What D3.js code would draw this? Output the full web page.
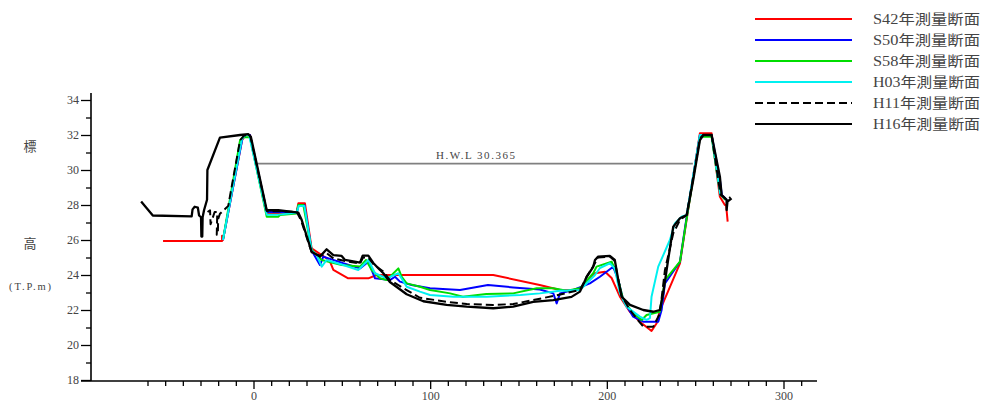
<!DOCTYPE html>
<html><head><meta charset="utf-8">
<script src="https://cdn.jsdelivr.net/npm/d3@7"></script>
<style>
html,body{margin:0;padding:0;background:#fff;}
svg{display:block;}
text{font-family:"Liberation Serif","Noto Sans CJK JP",serif;fill:#444;}
</style></head>
<body>
<svg id="chart" width="988" height="403"></svg>
<script>
// ---------------- data ----------------
const seriesNames = ["S42年測量断面","S50年測量断面","S58年測量断面","H03年測量断面","H11年測量断面","H16年測量断面"];
const seriesColors = ["#ff0000","#0000ff","#00dd00","#00f0f0","#000000","#000000"];
const seriesDash = [null,null,null,null,"8,4",null];

const S42 = [[-51.2,25.95],[-17.8,25.95],[-17.8,26.25],[-17.3,26.0],[-6.5,31.7],[-4.5,32.0],[-2,32.0],[7.5,27.5],[14,27.5],[24.5,27.62],[25.4,28.1],[29.1,28.1],[32.9,25.52],[41.4,24.95],[43.3,24.76],[45.2,24.29],[53.6,23.81],[65,23.81],[69.7,24.0],[135.7,24.0],[162,23.43],[173.5,23.14],[184.8,23.14],[193.3,24.1],[199,24.19],[202.7,23.83],[207.4,22.76],[213,21.9],[218.7,21.33],[225.3,20.8],[228.2,21.24],[230.1,22.0],[233.8,22.86],[241.4,24.67],[245.2,27.2],[252.7,32.1],[259.3,32.1],[264,28.47],[266.8,28.0],[267.5,28.0],[268.4,27.05]];
const S50 = [[-17.3,26.0],[-6.3,31.8],[-4.5,32.0],[-2,32.0],[7.5,27.6],[14,27.6],[24.5,27.6],[25.6,28.0],[28.8,28.0],[32.9,25.4],[33.8,25.24],[37.6,24.57],[39.5,25.05],[50.8,24.67],[60.3,24.38],[65,24.76],[68.8,23.81],[77.2,23.71],[80.1,23.9],[82.9,23.62],[89.5,23.43],[99.9,23.24],[116.9,23.14],[132.7,23.43],[147,23.29],[162.1,23.17],[169.7,22.95],[171.6,22.38],[173.5,22.95],[181,23.14],[190.4,23.52],[196.1,23.9],[203.6,24.47],[206.5,23.71],[209.3,22.57],[214.9,21.62],[220.6,21.33],[229.1,21.33],[231,22.0],[232.9,23.52],[241.4,24.76],[245.2,27.33],[252.7,32.0],[259.3,32.0],[264,29.43],[265.1,28.57],[268,28.29]];
const S58 = [[-17.1,26.1],[-7.6,31.7],[-5.8,31.87],[-2,31.87],[7.5,27.33],[14,27.33],[15,27.43],[24.4,27.52],[25.4,28.0],[28.2,28.0],[32.9,25.43],[38.6,24.86],[49.9,24.57],[60.3,24.48],[63.7,24.86],[66.9,24.29],[71.6,23.81],[75.4,23.71],[82,24.38],[83.9,23.9],[86.7,23.52],[94.2,23.33],[99.9,23.14],[111.3,22.95],[118.5,22.76],[131.8,22.91],[147,22.95],[160.3,23.24],[169.7,23.24],[177.3,23.1],[184.8,23.24],[192.3,24.1],[194.2,24.48],[202.7,24.76],[205.5,24.1],[209.3,22.57],[214.9,21.81],[219.7,21.43],[222.5,21.71],[230,21.9],[232.9,23.71],[241.4,24.76],[245.2,27.24],[252.7,31.9],[259.3,31.9],[262.1,30.0],[264.3,28.6],[267,28.3]];
const H03 = [[-17.3,26.0],[-6.5,31.8],[-4.5,32.0],[-2.5,32.0],[7.5,27.45],[14,27.45],[24.5,27.55],[25.6,27.95],[28.8,27.95],[32.9,25.4],[35.8,25.14],[38.6,24.48],[41.4,24.86],[50.8,24.57],[59.3,24.29],[65,24.86],[68.8,24.1],[75.4,23.81],[82,24.1],[86.7,23.33],[94.2,23.05],[99.9,22.86],[113.2,22.76],[132.1,22.76],[151.1,22.86],[162.1,22.95],[173.5,23.1],[184.8,23.14],[193.3,24.0],[196.1,24.4],[201.7,24.67],[204.5,24.38],[207.4,22.95],[211.2,22.19],[218.7,21.62],[222.5,21.43],[224.4,21.54],[225.3,22.76],[229.1,24.48],[235.7,26.0],[238.5,26.95],[242.3,27.33],[245.2,27.43],[252.7,32.0],[259.3,32.0],[264.2,28.6],[267.5,28.3]];
const H11 = [[-26,27.6],[-24.6,27.7],[-24.3,26.9],[-22,27.6],[-20.5,27.6],[-20.8,26.3],[-20.2,26.3],[-20,27.2],[-19,27.5],[-14.3,27.95],[-7.6,31.7],[-5.5,31.95],[-2.5,32.05],[-1.5,31.8],[7.5,27.65],[14,27.65],[24.5,27.6],[27,27.1],[32.9,25.3],[37.6,25.1],[41.4,25.25],[45.2,24.95],[51.8,24.8],[60.3,24.65],[62,25.0],[65,25.0],[68,24.6],[73.5,24.2],[77.2,23.71],[86.7,23.14],[94.2,22.7],[109.3,22.47],[120.7,22.34],[135.7,22.29],[147,22.34],[158.3,22.57],[169.7,22.8],[184.8,23.14],[188.6,23.9],[192.3,24.5],[195.1,25.0],[201.7,25.05],[204.5,24.8],[206.5,23.7],[208.4,22.8],[213.1,22.0],[217,21.5],[220.6,21.05],[226.3,21.05],[230,21.8],[232.9,24.29],[237.6,26.38],[241.4,27.14],[245.2,27.43],[252.7,31.8],[254.6,32.0],[259.3,32.0],[264.3,28.6],[267.8,28.3],[270,28.45]];
const H16 = [[-63.6,28.2],[-57,27.4],[-35,27.35],[-34.5,27.75],[-33.3,27.9],[-31.5,27.85],[-30.8,27.4],[-29.7,27.3],[-29.5,26.2],[-29,26.2],[-28.8,27.3],[-28,27.7],[-26.3,28.3],[-26.1,30.0],[-19,31.85],[-7.6,32.0],[-3,32.05],[-1.5,31.9],[7.5,27.7],[14,27.7],[25.4,27.56],[27.3,27.14],[32.9,25.33],[37.6,25.05],[41.4,25.47],[45.2,25.14],[49.9,25.09],[51.8,24.86],[60.3,24.71],[61.8,25.11],[65,25.11],[67.8,24.69],[71.6,24.29],[73.5,24.1],[77.2,23.6],[86.7,22.9],[96.1,22.5],[109.3,22.29],[120.7,22.19],[135.7,22.1],[147,22.19],[158.3,22.47],[169.7,22.57],[180,22.75],[184.8,23.05],[188.6,23.9],[192.3,24.47],[193.3,24.86],[195.1,25.05],[201.7,25.09],[204.5,24.86],[206.5,23.71],[208.4,22.76],[213.1,22.29],[220.6,22.0],[226.3,21.9],[230,22.0],[231.9,22.95],[234.7,24.86],[237.6,26.76],[241.4,27.24],[245.2,27.43],[248.9,29.43],[252.7,31.71],[254.6,32.0],[259.3,32.0],[264,29.62],[265,28.57],[267.8,28.29],[267.8,27.71],[268.3,28.2],[270.6,28.38]];
const seriesData = [S42,S50,S58,H03,H11,H16];

const hwlValue = 30.365;
const hwlRange = [2.5, 248.7];
const hwlLabel = "H.W.L 30.365";

const yMajorTicks = [18,20,22,24,26,28,30,32,34];
const yMinorTicks = [19,21,23,25,27,29,31,33];
const xMajorTicks = [0,100,200,300];
const xMinorTicks = d3.range(-60,320,10).filter(v => v % 100 !== 0);

// ---------------- chart ----------------
const svg = d3.select("#chart");
const x = d3.scaleLinear().domain([0,300]).range([253.5,783.5]);
const y = d3.scaleLinear().domain([18,34]).range([380,100]);
const axisX0 = 91, axisY0 = 381;

// y axis
const gy = svg.append("g").attr("transform",`translate(${axisX0},0)`);
gy.call(d3.axisLeft(y).tickValues(yMinorTicks).tickSize(5).tickFormat(""));
gy.select(".domain").remove();
const gy2 = svg.append("g").attr("transform",`translate(${axisX0},0)`);
gy2.call(d3.axisLeft(y).tickValues(yMajorTicks).tickSize(10).tickPadding(2));
gy2.select(".domain").remove();
gy2.selectAll("text").attr("font-size",12).attr("font-family",'"Liberation Serif",serif').attr("fill","#555");

// x axis
const gx = svg.append("g").attr("transform",`translate(0,${axisY0})`);
gx.call(d3.axisBottom(x).tickValues(xMinorTicks).tickSize(5).tickFormat(""));
gx.select(".domain").remove();
const gx2 = svg.append("g").attr("transform",`translate(0,${axisY0})`);
gx2.call(d3.axisBottom(x).tickValues(xMajorTicks).tickSize(8).tickPadding(2));
gx2.select(".domain").remove();
gx2.selectAll("text").attr("font-size",12).attr("font-family",'"Liberation Serif",serif').attr("fill","#555");
svg.selectAll("g .tick line").attr("stroke","#000").attr("stroke-width",1.3);

// axis lines
svg.append("line").attr("x1",axisX0).attr("x2",axisX0).attr("y1",93).attr("y2",axisY0)
  .attr("stroke","#000").attr("stroke-width",1.6);
svg.append("line").attr("x1",81).attr("x2",817).attr("y1",axisY0).attr("y2",axisY0)
  .attr("stroke","#000").attr("stroke-width",1.6);

// y title
svg.append("text").attr("x",30).attr("y",151).attr("text-anchor","middle").attr("font-size",13)
  .style("font-family",'"Noto Sans CJK JP",sans-serif').text("標");
svg.append("text").attr("x",30).attr("y",248).attr("text-anchor","middle").attr("font-size",13)
  .style("font-family",'"Noto Sans CJK JP",sans-serif').text("高");
svg.append("text").attr("x",9).attr("y",290).attr("font-size",10.5)
  .attr("textLength",42).attr("lengthAdjust","spacing").text("(T.P.m)");

// HWL
svg.append("line").attr("x1",x(hwlRange[0])).attr("x2",x(hwlRange[1]))
  .attr("y1",y(hwlValue)).attr("y2",y(hwlValue)).attr("stroke","#808080").attr("stroke-width",1.8);
svg.append("text").attr("x",436).attr("y",y(hwlValue)-5)
  .attr("font-size",11).attr("textLength",79).attr("lengthAdjust","spacing").text(hwlLabel);

// lines
const line = d3.line().x(d=>x(d[0])).y(d=>y(d[1]));
seriesData.forEach((data,i)=>{
  svg.append("path").datum(data).attr("d",line).attr("fill","none")
    .attr("stroke",seriesColors[i]).attr("stroke-width", i===5 ? 2.3 : 2)
    .attr("stroke-linejoin","round")
    .attr("stroke-dasharray",seriesDash[i]);
});

// legend
const lg = svg.append("g");
seriesNames.forEach((name,i)=>{
  const ly = 19 + i*21;
  lg.append("line").attr("x1",755).attr("x2",852).attr("y1",ly).attr("y2",ly)
    .attr("stroke",seriesColors[i]).attr("stroke-width",2.2).attr("stroke-dasharray",seriesDash[i]);
  lg.append("text").attr("x",873).attr("y",ly+5).attr("font-size",14)
    .attr("textLength",107).attr("lengthAdjust","spacingAndGlyphs").text(name);
});
</script>
</body></html>
